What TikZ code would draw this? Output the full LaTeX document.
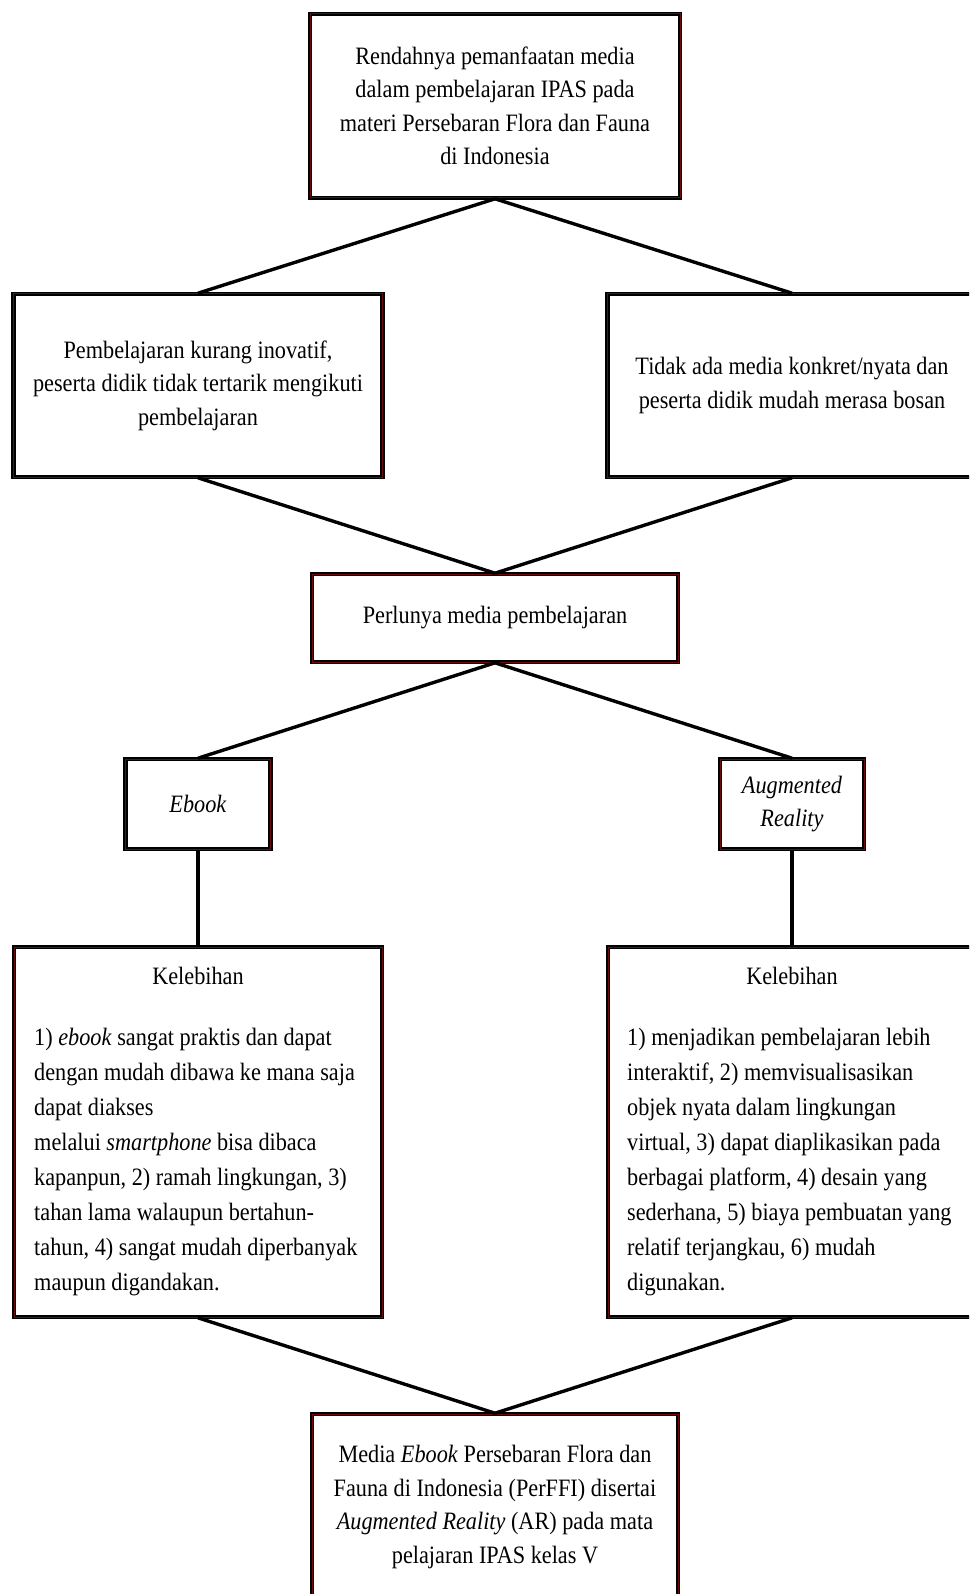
\documentclass[tikz,border=0pt]{standalone}
\usepackage{fontspec}
\setmainfont{Liberation Serif}[FakeStretch=0.89]
\definecolor{boxred}{RGB}{110,10,10}
\begin{document}
\begin{tikzpicture}[
        x=1pt, y=-1pt,
        every node/.style={font=\fontsize{25}{33.5}\selectfont},
        box/.style={rectangle, draw=black, double=boxred, double distance=1pt, line width=1.6pt, align=center, inner sep=0pt},
        listtext/.style={align=left, anchor=north west, inner sep=0pt, font=\fontsize{25}{35}\selectfont},
        link/.style={line width=3.4pt}
    ]
        \useasboundingbox (0,0) rectangle (969,1594);
        \clip (0,0) rectangle (969,1594);

        % Problem
        \node[box, minimum width=370, minimum height=184] (masalah) at (495,106) {Rendahnya pemanfaatan media\\dalam pembelajaran IPAS pada\\materi Persebaran Flora dan Fauna\\di Indonesia};

        % Causes
        \node[box, minimum width=369, minimum height=183] (kurang) at (198,385.5) {Pembelajaran kurang inovatif,\\peserta didik tidak tertarik mengikuti\\pembelajaran};
        \node[box, minimum width=369, minimum height=183] (konkret) at (792,385.5) {Tidak ada media konkret/nyata dan\\peserta didik mudah merasa bosan};
        \draw[link] (masalah.south) -- (kurang.north);
        \draw[link] (masalah.south) -- (konkret.north);

        % Need
        \node[box, minimum width=366, minimum height=88] (perlu) at (495,618) {Perlunya media pembelajaran};
        \draw[link] (kurang.south) -- (perlu.north);
        \draw[link] (konkret.south) -- (perlu.north);

        % Media
        \node[box, minimum width=145, minimum height=90] (ebook) at (198,804) {\textit{Ebook}};
        \node[box, minimum width=144, minimum height=90] (ar) at (792,804) {\textit{Augmented}\\\textit{Reality}};
        \draw[link] (perlu.south) -- (ebook.north);
        \draw[link] (perlu.south) -- (ar.north);

        % Advantages of ebook
        \node[box, minimum width=368, minimum height=370] (kelebihanE) at (198,1132) {};
        \node (judulE) at (198,976) {Kelebihan};
        \node[listtext] (isiE) at (34,1028) {1) \textit{ebook} sangat praktis dan dapat\\dengan mudah dibawa ke mana saja\\dapat diakses\\melalui \textit{smartphone} bisa dibaca\\kapanpun, 2) ramah lingkungan, 3)\\tahan lama walaupun bertahun-\\tahun, 4) sangat mudah diperbanyak\\maupun digandakan.};
        \draw[link] (ebook.south) -- (kelebihanE.north);

        % Advantages of AR
        \node[box, minimum width=368, minimum height=370] (kelebihanA) at (792,1132) {};
        \node (judulA) at (792,976) {Kelebihan};
        \node[listtext] (isiA) at (627,1028) {1) menjadikan pembelajaran lebih\\interaktif, 2) memvisualisasikan\\objek nyata dalam lingkungan\\virtual, 3) dapat diaplikasikan pada\\berbagai platform, 4) desain yang\\sederhana, 5) biaya pembuatan yang\\relatif terjangkau, 6) mudah\\digunakan.};
        \draw[link] (ar.south) -- (kelebihanA.north);

        % Product
        \node[box, minimum width=366, minimum height=186] (produk) at (495,1507) {Media \textit{Ebook} Persebaran Flora dan\\Fauna di Indonesia (PerFFI) disertai\\\textit{Augmented Reality} (AR) pada mata\\pelajaran IPAS kelas V};
        \draw[link] (kelebihanE.south) -- (produk.north);
        \draw[link] (kelebihanA.south) -- (produk.north);
    \end{tikzpicture}
\end{document}
